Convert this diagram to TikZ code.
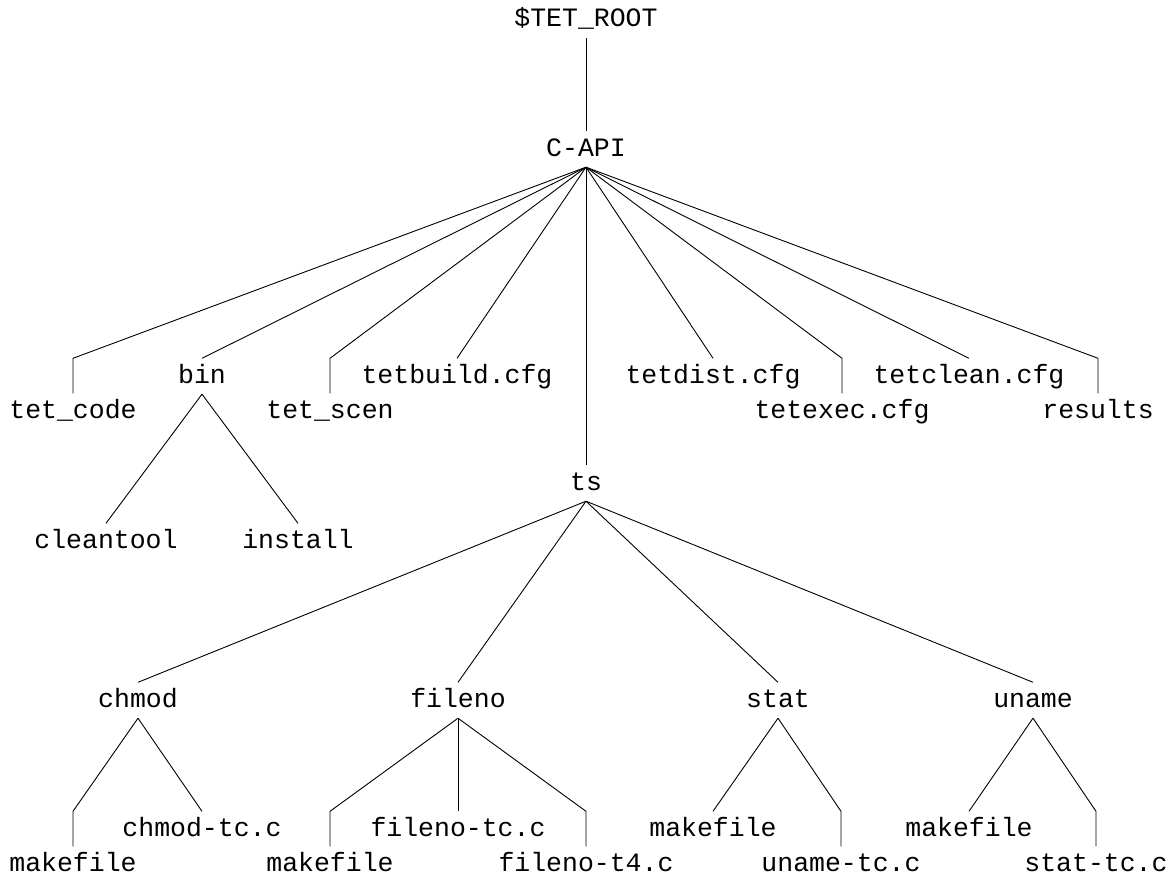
\documentclass[tikz,border=0pt]{standalone}
\usepackage{fontspec}
\setmonofont{Liberation Mono}
\begin{document}
\begin{tikzpicture}[x=1pt,y=-1pt,
  lbl/.style={font=\fontsize{26.5}{30}\selectfont\ttfamily, inner sep=0pt, anchor=base,
              text height=24.5pt, text depth=11pt},
  edge/.style={line width=0.9pt, draw=black}]
\useasboundingbox (0,0) rectangle (1173,875);
% nodes
\node[lbl] (root) at (586,27) {\$TET\_ROOT};
\node[lbl] (capi) at (586,156) {C-API};
\node[lbl] (tetcode) at (73,418) {tet\_code};
\node[lbl] (bin) at (202,383) {bin};
\node[lbl] (tetscen) at (330,418) {tet\_scen};
\node[lbl] (tetbuild) at (457,383) {tetbuild.cfg};
\node[lbl] (ts) at (586,490) {ts};
\node[lbl] (tetdist) at (713,383) {tetdist.cfg};
\node[lbl] (tetexec) at (842,418) {tetexec.cfg};
\node[lbl] (tetclean) at (969,383) {tetclean.cfg};
\node[lbl] (results) at (1098,418) {results};
\node[lbl] (cleantool) at (106,548) {cleantool};
\node[lbl] (install) at (298,548) {install};
\node[lbl] (chmod) at (138,707) {chmod};
\node[lbl] (fileno) at (458,707) {fileno};
\node[lbl] (stat) at (778,707) {stat};
\node[lbl] (uname) at (1033,707) {uname};
\node[lbl] (mk1) at (73,871) {makefile};
\node[lbl] (chmodtc) at (202,836) {chmod-tc.c};
\node[lbl] (mk2) at (330,871) {makefile};
\node[lbl] (filenotc) at (458,836) {fileno-tc.c};
\node[lbl] (filenot4) at (586,871) {fileno-t4.c};
\node[lbl] (mk3) at (713,836) {makefile};
\node[lbl] (unametc) at (841,871) {uname-tc.c};
\node[lbl] (mk4) at (969,836) {makefile};
\node[lbl] (stattc) at (1096,871) {stat-tc.c};
% connectors
\draw[edge] (root.south) -- (capi.north);
\draw[edge] (capi.south) -- (tetcode.north |- bin.north) -- (tetcode.north);
\draw[edge] (capi.south) -- (bin.north);
\draw[edge] (capi.south) -- (tetscen.north |- bin.north) -- (tetscen.north);
\draw[edge] (capi.south) -- (tetbuild.north);
\draw[edge] (capi.south) -- (ts.north);
\draw[edge] (capi.south) -- (tetdist.north);
\draw[edge] (capi.south) -- (tetexec.north |- bin.north) -- (tetexec.north);
\draw[edge] (capi.south) -- (tetclean.north);
\draw[edge] (capi.south) -- (results.north |- bin.north) -- (results.north);
\draw[edge] (bin.south) -- (cleantool.north);
\draw[edge] (bin.south) -- (install.north);
\draw[edge] (ts.south) -- (chmod.north);
\draw[edge] (ts.south) -- (fileno.north);
\draw[edge] (ts.south) -- (stat.north);
\draw[edge] (ts.south) -- (uname.north);
\draw[edge] (chmod.south) -- (mk1.north |- chmodtc.north) -- (mk1.north);
\draw[edge] (chmod.south) -- (chmodtc.north);
\draw[edge] (fileno.south) -- (mk2.north |- filenotc.north) -- (mk2.north);
\draw[edge] (fileno.south) -- (filenotc.north);
\draw[edge] (fileno.south) -- (filenot4.north |- filenotc.north) -- (filenot4.north);
\draw[edge] (stat.south) -- (mk3.north);
\draw[edge] (stat.south) -- (unametc.north |- mk3.north) -- (unametc.north);
\draw[edge] (uname.south) -- (mk4.north);
\draw[edge] (uname.south) -- (stattc.north |- mk4.north) -- (stattc.north);
\end{tikzpicture}
\end{document}
